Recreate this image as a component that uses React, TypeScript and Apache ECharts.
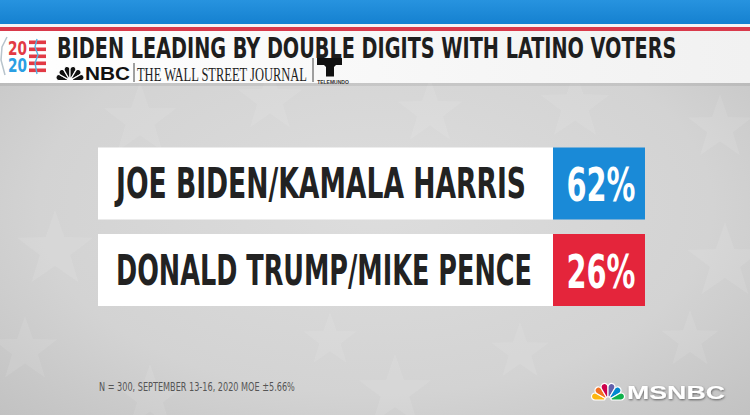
import React, { useEffect, useRef } from 'react';
import * as echarts from 'echarts';

const TITLE = 'BIDEN LEADING BY DOUBLE DIGITS WITH LATINO VOTERS';
const candidates = ['JOE BIDEN/KAMALA HARRIS', 'DONALD TRUMP/MIKE PENCE'];
const shares = [62, 26];
const partyColors = ['#1a8ad7', '#e4253b'];
const footnote = 'N = 300, SEPTEMBER 13-16, 2020 MOE ±5.66%';
const sourceLine = 'THE WALL STREET JOURNAL';
const peacockColors = ['#fcb711', '#f37021', '#cc004c', '#6460aa', '#0089d0', '#0db14b'];
const nameWidths = [410, 416];

const COND = '"Liberation Sans Narrow", "DejaVu Sans Condensed", "Roboto", sans-serif';
const SANS = '"Liberation Sans", "DejaVu Sans", sans-serif';
const SERIF = '"Liberation Serif", "DejaVu Serif", serif';

function measure(text: string, weight: string, size: number, family: string) {
  const ctx = document.createElement('canvas').getContext('2d')!;
  ctx.font = `${weight} ${size}px ${family}`;
  return ctx.measureText(text).width || 1;
}
function fit(text: string, weight: string, size: number, family: string, target: number) {
  return target / measure(text, weight, size, family);
}

function starPoints(cx: number, cy: number, r: number) {
  const pts: number[][] = [];
  for (let i = 0; i < 10; i++) {
    const a = -Math.PI / 2 + (i * Math.PI) / 5;
    const rr = i % 2 === 0 ? r : r * 0.4;
    pts.push([cx + rr * Math.cos(a), cy + rr * Math.sin(a)]);
  }
  return pts;
}

const stars = [
  [140, 120, 38], [270, 100, 34], [430, 112, 34], [575, 106, 36], [720, 128, 34],
  [55, 250, 40], [25, 350, 34], [725, 262, 40], [395, 392, 38], [150, 398, 34],
  [520, 352, 30], [690, 340, 30], [330, 340, 28],
];

function peacock(cx: number, cy: number, r: number, colors: string[], gap: string) {
  return colors.map((c, i) => ({
    type: 'sector',
    shape: {
      cx, cy, r, r0: r * 0.18,
      startAngle: Math.PI + (i * Math.PI) / 6,
      endAngle: Math.PI + ((i + 1) * Math.PI) / 6,
      cornerRadius: r * 0.25,
    },
    style: { fill: c, stroke: gap, lineWidth: 1.2 },
    z: 5,
  }));
}

function txt(x: number, y: number, text: string, opts: any, scaleX = 1) {
  return {
    type: 'text', x, y, scaleX, z: 6,
    style: {
      text,
      fontSize: opts.size, fontWeight: opts.weight || 'normal', fontFamily: opts.family,
      fill: opts.fill, stroke: opts.stroke, lineWidth: opts.lineWidth,
      textShadowColor: opts.shadow, textShadowBlur: opts.shadow ? 2 : 0,
      textShadowOffsetX: opts.shadow ? 0.5 : 0, textShadowOffsetY: opts.shadow ? 1 : 0,
      align: opts.align || 'left', textAlign: opts.align || 'left',
      verticalAlign: 'middle', textVerticalAlign: 'middle',
    },
  };
}

export default function App() {
  const ref = useRef<HTMLDivElement>(null);
  useEffect(() => {
    const chart = echarts.init(ref.current!, null, { renderer: 'svg' });
    const nameSize = 42;
    const valSize = 47;
    const nameScales = candidates.map((c, i) => fit(c, 'bold', nameSize, COND, nameWidths[i]));
    const valScale = fit('62%', 'bold', valSize, COND, 69);
    const titleScale = fit(TITLE, 'bold', 29, COND, 620);

    const graphic: any[] = [
      {
        type: 'rect', shape: { x: 0, y: 0, width: 750, height: 415 }, z: 0,
        style: {
          fill: new echarts.graphic.RadialGradient(0.5, 0.5, 0.75, [
            { offset: 0, color: '#dddddd' },
            { offset: 0.6, color: '#d3d3d3' },
            { offset: 1, color: '#bfbfbf' },
          ]),
        },
      },
      ...stars.map(([x, y, r]) => ({
        type: 'polygon', shape: { points: starPoints(x, y, r) }, z: 1,
        style: { fill: 'rgba(255,255,255,0.09)' },
      })),
      // top bands
      { type: 'rect', shape: { x: 0, y: 0, width: 750, height: 24 }, z: 3,
        style: { fill: new echarts.graphic.LinearGradient(0, 0, 0, 1, [
          { offset: 0, color: '#2793df' }, { offset: 1, color: '#1581d0' }]) } },
      { type: 'rect', shape: { x: 0, y: 24, width: 750, height: 3 }, z: 3, style: { fill: '#f4f4f4' } },
      { type: 'rect', shape: { x: 0, y: 27, width: 750, height: 4 }, z: 3, style: { fill: '#d93a4b' } },
      { type: 'rect', shape: { x: 0, y: 31, width: 750, height: 52 }, z: 3,
        style: { fill: new echarts.graphic.LinearGradient(0, 0, 1, 0, [
          { offset: 0, color: '#ffffff' }, { offset: 1, color: '#f1f1f1' }]) } },
      { type: 'rect', shape: { x: 0, y: 83, width: 750, height: 3 }, z: 3, style: { fill: 'rgba(0,0,0,0.07)' } },
      // 2020 logo
      txt(8, 48, '20', { size: 19, weight: 'bold', family: COND, fill: '#e23a45' }, fit('20', 'bold', 19, COND, 19)),
      txt(8, 65, '20', { size: 19, weight: 'bold', family: COND, fill: '#2b9fe3' }, fit('20', 'bold', 19, COND, 19)),
      ...[0, 1, 2, 3, 4].map((i) => ({
        type: 'rect', shape: { x: 29, y: 40.5 + i * 7, width: 17, height: 3.6 }, z: 5, style: { fill: '#e23a45' },
      })),
      { type: 'polyline', z: 6, shape: { points: [[37, 39], [35, 47], [38, 55], [35, 63], [37, 74]] },
        style: { stroke: '#52b4e3', lineWidth: 1.4, fill: 'none' } },
      { type: 'polyline', z: 5, shape: { points: [[7, 37], [2, 47], [1, 60], [5, 75]] },
        style: { stroke: '#b8c4cc', lineWidth: 1.5, fill: 'none' } },
      // title
      txt(57, 47.5, TITLE, { size: 29, weight: 'bold', family: COND, fill: '#1e1e1e' }, titleScale),
      // NBC line
      ...peacock(70, 80.5, 14.5, peacockColors.map(() => '#111111'), '#ffffff'),
      txt(85, 73.5, 'NBC', { size: 19, weight: 'bold', family: SANS, fill: '#111' }, fit('NBC', 'bold', 19, SANS, 45)),
      { type: 'line', z: 5, shape: { x1: 134, y1: 63, x2: 134, y2: 82 }, style: { stroke: '#444', lineWidth: 1 } },
      txt(137, 74, sourceLine, { size: 19, family: SERIF, fill: '#1e1e1e' }, fit(sourceLine, 'normal', 19, SERIF, 171)),
      { type: 'line', z: 5, shape: { x1: 313, y1: 58, x2: 313, y2: 82 }, style: { stroke: '#444', lineWidth: 1 } },
      { type: 'polygon', z: 5, shape: { points: [[317, 58], [342, 58], [342, 65], [336, 65], [334, 67], [334, 76.5], [326, 76.5], [326, 67], [324, 65], [317, 65]] },
        style: { fill: '#111' } },
      txt(333, 81.5, 'TELEMUNDO', { size: 5, weight: 'bold', family: SANS, fill: '#333', align: 'center' }),
      // footnote
      txt(99, 386.5, footnote, { size: 13, family: COND, fill: '#555' }, fit(footnote, 'normal', 13, COND, 196)),
      // MSNBC
      ...peacock(608, 400, 17, peacockColors, '#ffffff'),
      txt(627, 392.5, 'MSNBC', { size: 19, weight: 'bold', family: SANS, fill: '#ffffff', shadow: 'rgba(0,0,0,0.55)' }, fit('MSNBC', 'bold', 19, SANS, 98)),
    ];

    chart.setOption({
      animation: false,
      grid: { left: 98, right: 105, top: 140.25, height: 173 },
      xAxis: { type: 'value', min: 0, max: 100, show: false },
      yAxis: { type: 'category', data: candidates, inverse: true, show: false },
      graphic,
      series: [
        {
          type: 'custom',
          z: 10,
          encode: { x: 1, y: 0 },
          data: shares.map((v, i) => [i, v]),
          renderItem: (params: any, api: any) => {
            const idx = api.value(0);
            const v = api.value(1);
            const cy = api.coord([0, idx])[1];
            const band = api.size([0, 1])[1];
            const h = band * 0.832;
            const cs = params.coordSys;
            const left = cs.x;
            const right = cs.x + cs.width;
            const boxW = 92;
            return {
              type: 'group',
              children: [
                { type: 'rect', shape: { x: left, y: cy - h / 2, width: right - left - boxW, height: h }, style: { fill: '#ffffff' } },
                { type: 'rect', shape: { x: right - boxW, y: cy - h / 2, width: boxW, height: h }, style: { fill: partyColors[idx] } },
                {
                  type: 'text', x: left + 18, y: cy + 0.5, scaleX: nameScales[idx],
                  style: { text: candidates[idx], fontSize: nameSize, fontWeight: 'bold', fontFamily: COND, fill: '#222',
                    align: 'left', textAlign: 'left', verticalAlign: 'middle', textVerticalAlign: 'middle' },
                },
                {
                  type: 'text', x: right - boxW / 2 + 2, y: cy + 1.5, scaleX: valScale,
                  style: { text: `${v}%`, fontSize: valSize, fontWeight: 'bold', fontFamily: COND, fill: '#ffffff',
                    align: 'center', textAlign: 'center', verticalAlign: 'middle', textVerticalAlign: 'middle' },
                },
              ],
            };
          },
        },
      ],
    });
    return () => chart.dispose();
  }, []);
  return <div ref={ref} style={{ position: 'absolute', left: 0, top: 0, width: 750, height: 415 }} />;
}
